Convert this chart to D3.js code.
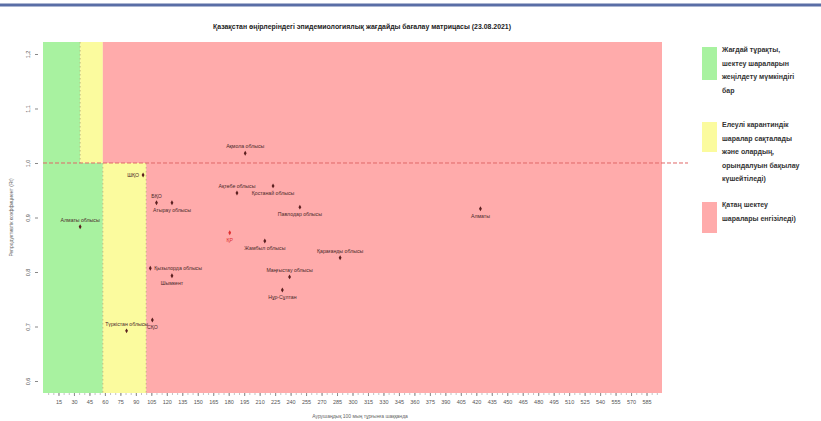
<!DOCTYPE html>
<html><head><meta charset="utf-8">
<script src="https://cdn.jsdelivr.net/npm/d3@7"></script>
<style>
html,body{margin:0;padding:0;background:#fff;}
svg{display:block;font-family:"Liberation Sans",Arial,sans-serif;}
</style></head>
<body><svg id="c" width="821" height="421"></svg>
<script>
// ---- data ----
const titleText = "Қазақстан өңірлеріндегі эпидемиологиялық жағдайды бағалау матрицасы (23.08.2021)";
const xAxisTitle = "Аурушаңдық 100 мың тұрғынға шаққанда";
const yAxisTitle = "Репродуктивтік коэффициент (Rt)";
const regions = ["Ақмола облысы","ШҚО","БҚО","Атырау облысы","Ақтөбе облысы","Қостанай облысы","Павлодар облысы","Алматы","ҚР","Жамбыл облысы","Қарағанды облысы","Қызылорда облысы","Шымкент","Маңғыстау облысы","Нұр-Сұлтан","СҚО","Түркістан облысы","Алматы облысы"];
const incidence = [196,97,110,125,188,223,249,424,181,215,288,104,125,239,232,106,81,36];
const rt = [1.018,0.978,0.927,0.927,0.945,0.958,0.919,0.916,0.872,0.857,0.826,0.807,0.793,0.791,0.767,0.712,0.692,0.883];
const labelPos = ["top","left","top","bottom","top","bottom","bottom","bottom","bottom","bottom","top","right","bottom","top","bottom","bottom","top","top"];
const xTickValues = d3.range(15, 600, 15);
const yTickValues = [0.6,0.7,0.8,0.9,1.0,1.1,1.2];
// zone thresholds (incidence) above / below Rt = 1
const zonesAbove = [0, 36, 58, 600];
const zonesBelow = [0, 58, 100, 600];
const zoneColors = ["#a8f2a0","#fbfb9e","#ffabab"];
const legendTexts = [
  ["Жағдай тұрақты,","шектеу шараларын","жеңілдету мүмкіндігі","бар"],
  ["Елеулі карантиндік","шаралар сақталады","және олардың,","орындалуын бақылау","күшейтіледі)"],
  ["Қатаң шектеу","шаралары енгізіледі)"]
];

// ---- chart ----
const svg = d3.select("#c");
const L=43,R=662,T=42,B=393;
const x = d3.scaleLinear().domain([0,600]).range([L,R]);
const y = d3.scaleLinear().domain([0.578,1.222]).range([B,T]);

// top decorative rule
svg.append("line").attr("x1",0).attr("x2",821).attr("y1",5).attr("y2",5)
  .attr("stroke","#5a6ea6").attr("stroke-width",3);

// title
svg.append("text").attr("x",362).attr("y",29).attr("text-anchor","middle")
  .attr("font-size",6.6).attr("font-weight","bold").attr("fill","#222")
  .attr("textLength",298).attr("lengthAdjust","spacingAndGlyphs").text(titleText);

// zones
const g = svg.append("g");
function zoneRects(bounds, y0, y1){
  for(let i=0;i<3;i++){
    g.append("rect").attr("x",x(bounds[i])).attr("width",x(bounds[i+1])-x(bounds[i]))
      .attr("y",y(y0)).attr("height",y(y1)-y(y0)).attr("fill",zoneColors[i]);
  }
}
zoneRects(zonesAbove,1.222,1.0);
zoneRects(zonesBelow,1.0,0.578);

// dotted boundary lines
[[zonesAbove[1],1.222,1.0],[zonesBelow[1],1.0,0.578],[zonesBelow[2],1.0,0.578]].forEach(d=>{
  g.append("line").attr("x1",x(d[0])).attr("x2",x(d[0])).attr("y1",y(d[1])).attr("y2",y(d[2]))
   .attr("stroke","#b9b070").attr("stroke-width",0.8).attr("stroke-dasharray","1.5,2.5");
});
// Rt = 1 dashed line
g.append("line").attr("x1",L).attr("x2",688).attr("y1",y(1)).attr("y2",y(1))
  .attr("stroke","#e06868").attr("stroke-width",1).attr("stroke-dasharray","4,2");

// x axis
const xAxis = d3.axisBottom(x).tickValues(xTickValues).tickSize(3).tickFormat(d=>d);
const xg = svg.append("g").attr("transform",`translate(0,${B})`).call(xAxis);
xg.select(".domain").remove();
xg.selectAll("line").attr("stroke","#888");
xg.selectAll("text").attr("font-size",5.5).attr("fill","#555").attr("dy","0.9em");
const xMinor = svg.append("g").attr("transform",`translate(0,${B})`)
  .call(d3.axisBottom(x).tickValues(d3.range(5,600,5)).tickSize(2).tickFormat(""));
xMinor.select(".domain").remove();
xMinor.selectAll("line").attr("stroke","#999").attr("stroke-width",0.6);

// y axis
const yAxis = d3.axisLeft(y).tickValues(yTickValues).tickSize(3).tickFormat(d=>d.toFixed(1).replace(".",","));
const yg = svg.append("g").attr("transform",`translate(${L-5},0)`).call(yAxis);
yg.select(".domain").remove();
yg.selectAll("line").attr("stroke","#888");
yg.selectAll("text").attr("font-size",5.5).attr("fill","#555")
  .attr("transform",function(d){return `rotate(-90,-10,${y(d)-y(d)})`;})
  .attr("x",-10).attr("dy",0).attr("text-anchor","middle")
  .each(function(){ d3.select(this).attr("transform","translate(-2,0) rotate(-90)").attr("x",0).attr("y",-6); });

// axis titles
svg.append("text").attr("transform",`translate(13,${(T+B)/2}) rotate(-90)`).attr("text-anchor","middle")
  .attr("font-size",5).attr("fill","#666").text(yAxisTitle);
svg.append("text").attr("x",360).attr("y",418).attr("text-anchor","middle")
  .attr("font-size",5).attr("fill","#666").text(xAxisTitle);

// points
const pts = svg.append("g");
regions.forEach((name,i)=>{
  const px=x(incidence[i]), py=y(rt[i]);
  const isRep = name==="ҚР";
  const col = isRep ? "#e03030" : "#5a1f1f";
  pts.append("path").attr("d",d3.symbol(d3.symbolDiamond,7)()).attr("transform",`translate(${px},${py})`).attr("fill",col);
  let tx=px, ty=py, anchor="middle";
  const p = labelPos[i];
  if(p==="top"){ty=py-5;}
  else if(p==="bottom"){ty=py+9;}
  else if(p==="left"){tx=px-4;ty=py+2;anchor="end";}
  else {tx=px+4;ty=py+2;anchor="start";}
  pts.append("text").attr("x",tx).attr("y",ty).attr("text-anchor",anchor)
    .attr("font-size",5.2).attr("fill",isRep?"#e03030":"#4a2a2a").text(name);
});

// legend
const lg = svg.append("g");
const legY = [47,122,202];
const legH = [33,30,31];
legendTexts.forEach((lines,i)=>{
  lg.append("rect").attr("x",702).attr("y",legY[i]).attr("width",15).attr("height",legH[i]).attr("fill",zoneColors[i]);
  lines.forEach((t,j)=>{
    lg.append("text").attr("x",722).attr("y",legY[i]+5+j*13.5).attr("font-size",7).attr("font-weight","bold")
      .attr("fill","#333").text(t);
  });
});
</script></body></html>
